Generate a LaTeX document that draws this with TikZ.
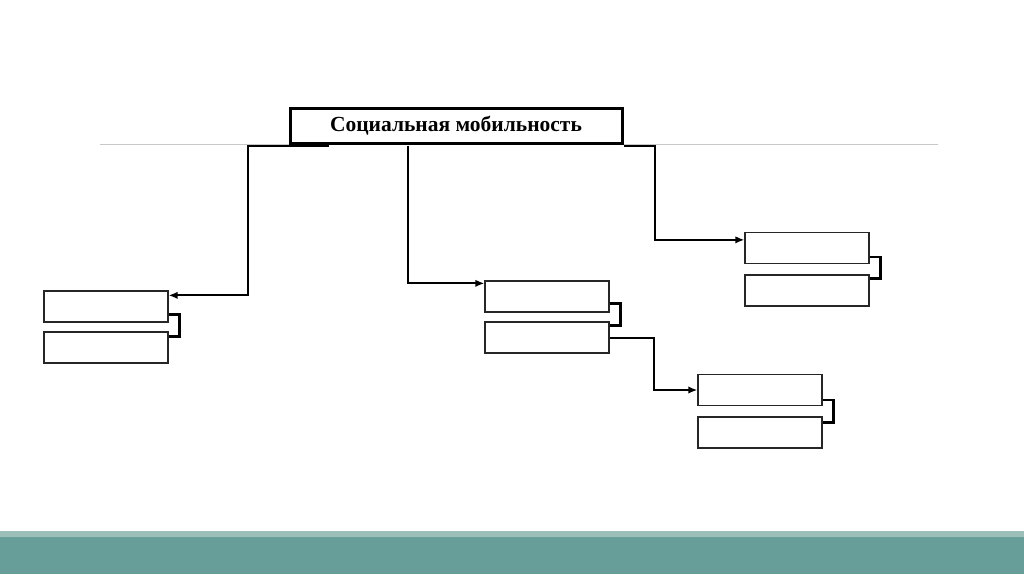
\documentclass[tikz,border=0pt]{standalone}
\usepackage{fontspec}
\setmainfont{Liberation Serif}
\usetikzlibrary{arrows.meta,calc}
\definecolor{bandlight}{HTML}{9CBFBA}
\definecolor{banddark}{HTML}{689E99}
\begin{document}
\begin{tikzpicture}[x=1pt,y=-1pt,
  titlebox/.style={draw,line width=3pt,minimum width=332pt,minimum height=35pt,inner sep=0pt,font=\fontsize{21.5}{24}\selectfont\bfseries},
  emptybox/.style={draw=black!85,line width=1.3pt,minimum width=124pt,minimum height=31pt,inner sep=0pt},
  conn/.style={line width=2pt,-{Latex[length=9pt,width=7.5pt]}},
  brace/.style={line width=2.6pt}]
\useasboundingbox (0,0) rectangle (1024,574);
% footer band
\fill[bandlight] (0,531) rectangle (1024,537);
\fill[banddark] (0,537) rectangle (1024,574);
% thin rule under the title
\draw[black!22,line width=1pt] (100,144) -- (938,144);
% title
\node[titlebox,fill=white] (top) at (456,125.5) {Социальная мобильность};
% pairs of empty boxes
\node[emptybox] (l1) at (106,306.5) {};
\node[emptybox] (l2) at (106,347.5) {};
\node[emptybox] (m1) at (547,296.5) {};
\node[emptybox] (m2) at (547,337.5) {};
\node[emptybox] (r1) at (807,248) {};
\node[emptybox] (r2) at (807,290.5) {};
\node[emptybox] (s1) at (760,390) {};
\node[emptybox] (s2) at (760,432.5) {};
% connectors from the title
\coordinate (lstart) at ($(top.south west)+(40,1)$);
\coordinate (mstart) at ($(top.south west)+(119,1)$);
\coordinate (rstart) at ($(top.south east)+(0,1)$);
\draw[conn] (lstart) -- ++(-81,0) |- ($(l1.north east)+(0,5)$);
\draw[conn] (mstart) |- ($(m1.north west)+(0,3)$);
\draw[conn] (rstart) -- ++(31,0) |- ($(r1.north west)+(0,8)$);
\draw[conn] (m2.east) -- ++(44,0) |- (s1.west);
% brackets joining each pair
\draw[brace] ($(l1.south east)+(0,-8)$) -- ++(11,0) |- ($(l2.north east)+(0,5)$);
\draw[brace] ($(m1.south east)+(0,-9)$) -- ++(11,0) |- ($(m2.north east)+(0,4)$);
\draw[brace] ($(r1.south east)+(0,-7)$) -- ++(11,0) |- ($(r2.north east)+(0,4)$);
\draw[brace] ($(s1.south east)+(0,-6)$) -- ++(11,0) |- ($(s2.north east)+(0,6)$);
\end{tikzpicture}
\end{document}
